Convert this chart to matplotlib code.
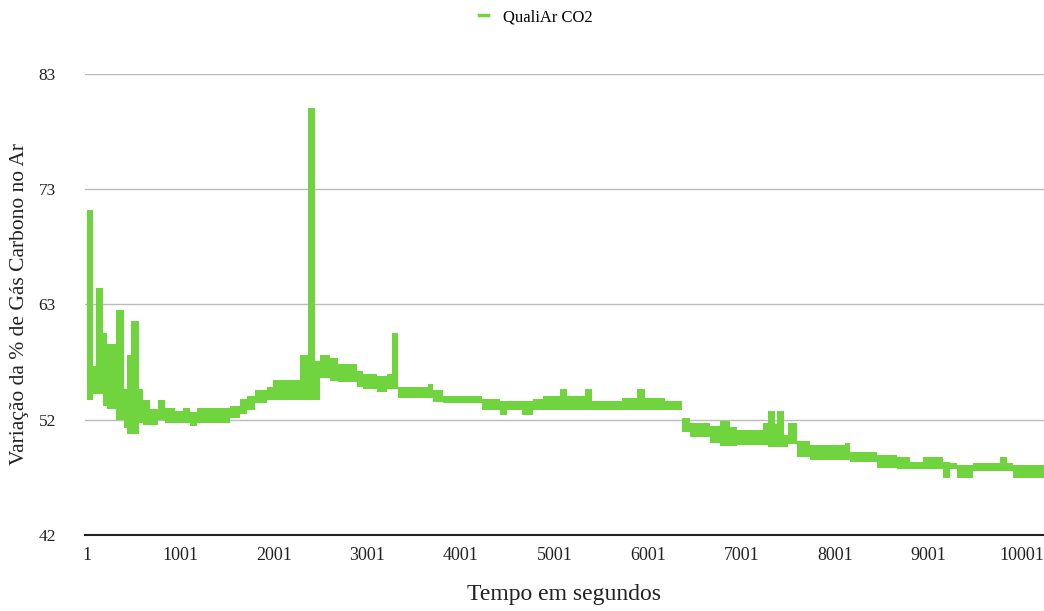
import matplotlib
matplotlib.use("Agg")
import matplotlib.pyplot as plt
from matplotlib.lines import Line2D
import numpy as np

# ---- data ----
series_name = "QualiAr CO2"
# start time (s) of each step segment, and the band's upper / lower value
seg_time = [1, 65, 97, 172, 215, 311, 397, 429, 472, 557, 600, 675, 760, 835,
            942, 1028, 1103, 1178, 1530, 1637, 1712, 1798, 1926, 1990, 2279,
            2365, 2440, 2493, 2600, 2686, 2889, 2953, 3103, 3210, 3263, 3327,
            3648, 3701, 3808, 4225, 4418, 4493, 4653, 4771, 4878, 5060, 5135,
            5327, 5402, 5723, 5884, 5969, 6183, 6365, 6450, 6664, 6771, 6878,
            6953, 7231, 7284, 7359, 7380, 7455, 7498, 7594, 7733, 8108, 8161,
            8450, 8664, 8803, 8942, 9156, 9231, 9306, 9477, 9766, 9840, 9905]
seg_high = [70.9, 57.0, 64.0, 60.0, 59.0, 62.0, 55.0, 58.0, 61.0, 55.0, 54.0,
            53.2, 54.0, 53.3, 53.0, 53.3, 52.9, 53.3, 53.5, 54.1, 54.4, 54.9,
            55.2, 55.8, 58.0, 80.0, 57.5, 58.0, 57.7, 57.2, 56.6, 56.3, 56.1,
            56.3, 60.0, 55.2, 55.4, 54.9, 54.4, 54.1, 53.9, 53.9, 53.9, 54.1,
            54.4, 55.0, 54.4, 55.0, 53.9, 54.2, 55.0, 54.2, 53.9, 52.4, 52.0,
            51.7, 52.1, 51.6, 51.3, 52.0, 53.0, 51.9, 53.0, 50.9, 52.0, 50.4,
            50.0, 50.2, 49.4, 49.1, 48.9, 48.5, 48.9, 48.5, 48.4, 48.2, 48.4,
            48.9, 48.4, 48.2]
seg_low = [54.0, 54.5, 54.5, 53.5, 53.2, 52.2, 51.5, 51.0, 51.0, 52.0, 51.8,
           51.8, 52.2, 52.0, 52.0, 52.0, 51.7, 52.0, 52.4, 52.8, 53.1, 53.7,
           54.0, 54.0, 54.0, 54.0, 54.0, 56.0, 55.7, 55.6, 55.2, 55.0, 54.7,
           55.0, 55.0, 54.2, 54.2, 53.8, 53.7, 53.1, 52.7, 53.1, 52.7, 53.1,
           53.1, 53.1, 53.1, 53.1, 53.1, 53.1, 53.1, 53.1, 53.1, 51.2, 50.7,
           50.2, 49.9, 49.9, 50.0, 50.0, 49.8, 49.8, 49.8, 49.8, 50.1, 48.9,
           48.7, 48.7, 48.5, 48.0, 47.9, 47.9, 47.9, 47.1, 47.9, 47.1, 47.7,
           47.7, 47.7, 47.1]
end_time = 10236

x_ticks = [1, 1001, 2001, 3001, 4001, 5001, 6001, 7001, 8001, 9001, 10001]
y_tick_labels = ["42", "52", "63", "73", "83"]
y_min, y_max = 42, 83

x_label = "Tempo em segundos"
y_label = "Variação da % de Gás Carbono no Ar"

# ---- style ----
green = "#6fd43d"
plt.rcParams["font.family"] = ["Liberation Serif", "DejaVu Serif"]

fig = plt.figure(figsize=(10.44, 6.11), dpi=100)
ax = fig.add_axes([0.0814, 0.1244, 0.9186, 0.7545])

t = np.array(seg_time + [end_time], dtype=float)
hi = np.array(seg_high + [seg_high[-1]])
lo = np.array(seg_low + [seg_low[-1]])
ax.fill_between(t, lo, hi, step="post", color=green, linewidth=0, zorder=3)

ax.set_xlim(-20, end_time)
ax.set_ylim(y_min, y_max)
yt = np.linspace(y_min, y_max, len(y_tick_labels))
ax.set_yticks(yt)
ax.set_yticklabels(y_tick_labels)
ax.set_xticks(x_ticks)
ax.set_xticklabels([str(v) for v in x_ticks])

ax.grid(axis="y", color="#bcbcbc", linewidth=1.0, zorder=1)
ax.grid(axis="x", visible=False)
for s in ["top", "right", "left"]:
    ax.spines[s].set_visible(False)
ax.spines["bottom"].set_color("#222222")
ax.spines["bottom"].set_linewidth(1.5)
ax.spines["bottom"].set_zorder(4)

ax.tick_params(axis="x", length=0, pad=9, labelsize=13, colors="#222222")
ax.tick_params(axis="y", length=0, pad=21, labelsize=12.5, colors="#222222")

ax.set_xlabel(x_label, fontsize=17, color="#222222", labelpad=14)
ax.set_ylabel(y_label, fontsize=15.5, color="#222222")
ax.yaxis.set_label_coords(-0.0585, 0.5)

handle = Line2D([], [], color=green, linewidth=2.5)
fig.legend([handle], [series_name], loc="center", bbox_to_anchor=(0.513, 0.972),
           frameon=False, fontsize=12, handlelength=0.55, handletextpad=0.9)

fig.savefig("out.png", dpi=100)
